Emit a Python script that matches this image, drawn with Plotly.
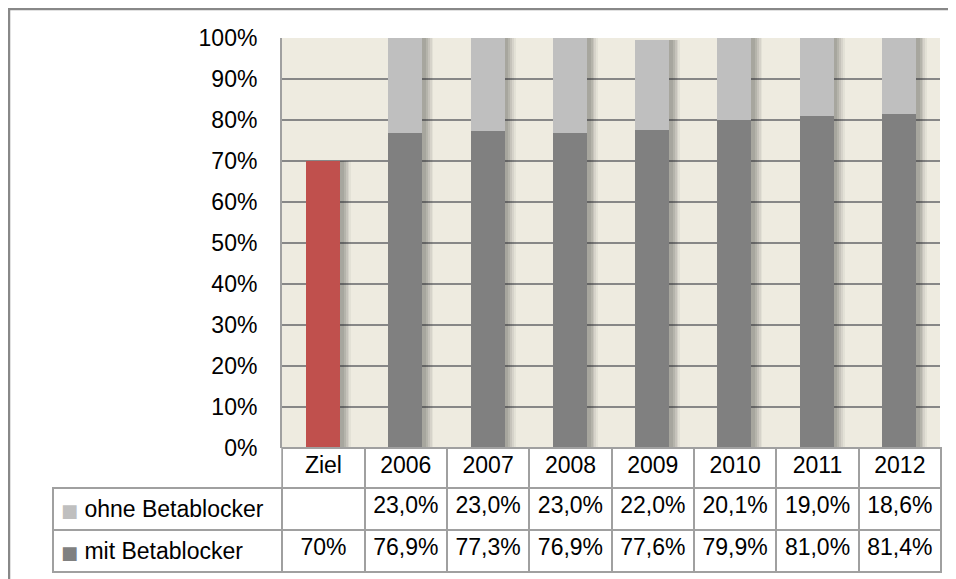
import plotly.graph_objects as go

categories = ["Ziel", "2006", "2007", "2008", "2009", "2010", "2011", "2012"]
mit_values = [70.0, 76.9, 77.3, 76.9, 77.6, 79.9, 81.0, 81.4]
ohne_values = [None, 23.0, 23.0, 23.0, 22.0, 20.1, 19.0, 18.6]
mit_decimals = [0, 1, 1, 1, 1, 1, 1, 1]
series_names = ["ohne Betablocker", "mit Betablocker"]
y_ticks = [0, 10, 20, 30, 40, 50, 60, 70, 80, 90, 100]

# page body has an 8px margin: figure coords = screen coords - 8
W, H = 948, 571
FONT = "Liberation Sans, Arial, sans-serif"
RED = "#C0504D"
DARK = "#808080"
LIGHT = "#BFBFBF"
BG = "#EEEBE0"

def fmt(v, d=1):
    if v is None:
        return ""
    return (f"{v:.{d}f}".replace(".", ",")) + "%"

mit_colors = [RED if c == "Ziel" else DARK for c in categories]
totals = [m + (o or 0) for m, o in zip(mit_values, ohne_values)]
ohne_base = mit_values

bw = 0.415
px = 1 / 82.25

fig = go.Figure()

# drop shadows (layered, to the right of each bar)
for i, alpha in enumerate([0.10, 0.10, 0.09, 0.07, 0.05]):
    ext = (i + 1) * 1.8 * px
    fig.add_trace(go.Bar(
        x=categories, y=totals, width=bw + ext, offset=-bw / 2 + 2 * px,
        marker=dict(color=f"rgba(40,40,40,{alpha})", line=dict(width=0)),
        hoverinfo="skip", showlegend=False))

fig.add_trace(go.Bar(
    x=categories, y=mit_values, width=bw, name=series_names[1],
    marker=dict(color=mit_colors, line=dict(width=0)), showlegend=False))
fig.add_trace(go.Bar(
    x=categories, y=ohne_values, base=ohne_base, width=bw, name=series_names[0],
    marker=dict(color=LIGHT, line=dict(width=0)), showlegend=False))

# data table
def legend_label(name, color):
    return (f"<span style='color:{color};font-family:DejaVu Sans;font-size:18px'>■</span>"
            f" {name}<br>")

header_vals = [""] + categories
col0 = [legend_label(series_names[0], LIGHT), legend_label(series_names[1], DARK)]
cell_cols = [col0]
for j in range(len(categories)):
    cell_cols.append([fmt(ohne_values[j]), fmt(mit_values[j], mit_decimals[j])])

n = len(categories)
fig.add_trace(go.Table(
    domain=dict(x=[45 / W, 933 / W], y=[1 - 569 / H, 1 - 440 / H]),
    columnwidth=[229] + [82.25] * n,
    header=dict(values=header_vals, height=40,
                fill=dict(color=["rgba(0,0,0,0)"] + ["white"] * n),
                line=dict(color=["rgba(0,0,0,0)"] + ["#A0A0A0"] * n,
                          width=[0] + [2] * n),
                align="center",
                font=dict(family=FONT, size=23, color="black")),
    cells=dict(values=cell_cols, height=42,
               fill=dict(color="white"),
               line=dict(color="#A0A0A0", width=2),
               align=["left"] + ["center"] * n,
               font=dict(family=FONT, size=23, color="black")),
))

fig.update_layout(
    width=W, height=H,
    margin=dict(l=0, r=0, t=0, b=0, autoexpand=False),
    paper_bgcolor="white",
    plot_bgcolor=BG,
    barmode="overlay",
    bargap=0,
    showlegend=False,
    font=dict(family=FONT, size=23, color="black"),
    xaxis=dict(domain=[274 / W, 932 / W], showticklabels=False, ticks="",
               showgrid=False, zeroline=False, showline=False, automargin=False,
               range=[-0.5, n - 0.5], fixedrange=True),
    yaxis=dict(domain=[1 - 440 / H, 1 - 30 / H], range=[0, 100], automargin=False,
               tickvals=y_ticks, ticktext=[f"{t}%" for t in y_ticks],
               showgrid=True, gridcolor="#878787", gridwidth=2,
               zeroline=False, showline=True, linecolor="#A0A0A0", linewidth=2,
               ticks="", ticklabelstandoff=18,
               tickfont=dict(family=FONT, size=23, color="black")),
    shapes=[
        dict(type="line", xref="paper", yref="paper", x0=0.5 / W, x1=1, y0=1 - 1 / H, y1=1 - 1 / H,
             line=dict(color="#888888", width=2.5)),
        dict(type="line", xref="paper", yref="paper", x0=1 / W, x1=1 / W, y0=0, y1=1,
             line=dict(color="#888888", width=2.5)),
    ],
)

fig.write_html("out.html", config={"displayModeBar": False})
